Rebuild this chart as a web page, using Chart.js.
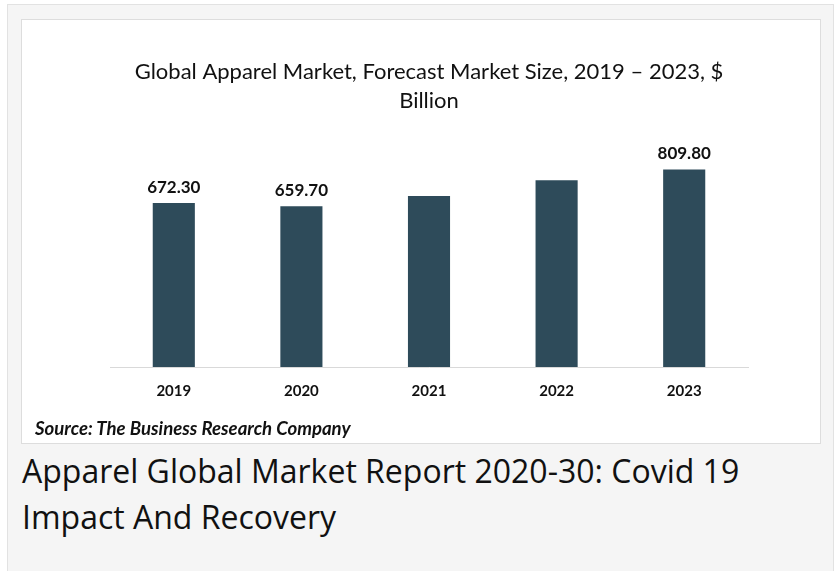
<!DOCTYPE html>
<html>
<head>
<meta charset="utf-8">
<script src="https://cdn.jsdelivr.net/npm/chart.js@4.4.0/dist/chart.umd.min.js"></script>
<style>
  html, body { margin: 0; padding: 0; background: #ffffff; }
  #panel {
    position: absolute; left: 7px; top: 4px; width: 825px; height: 600px;
    background: #f5f5f5; border: 1px solid #e2e2e2;
  }
  #box {
    position: absolute; left: 21px; top: 19px; width: 798px; height: 423px;
    background: #ffffff; border: 1px solid #dddddd;
  }
  #box canvas { position: absolute; left: 0; top: 0; }
  #source {
    position: absolute; left: 13px; top: 397px;
    font: italic bold 18.6px Lato, sans-serif; color: #111111;
  }
  #caption {
    position: absolute; left: 22px; top: 448px; width: 760px;
    font: 32px "Open Sans", sans-serif; line-height: 46px; color: #111111;
  }
</style>
</head>
<body>
<div id="panel"></div>
<div id="box">
  <canvas id="chart" width="798" height="423"></canvas>
  <div id="source">Source: The Business Research Company</div>
</div>
<div id="caption">Apparel Global Market Report 2020-30: Covid 19 Impact And Recovery</div>

<script>
const years = ['2019', '2020', '2021', '2022', '2023'];
const marketSize = [672.3, 659.7, 701, 766, 809.8];
const showLabel = [true, true, false, false, true];
const titleLines = ['Global Apparel Market, Forecast Market Size, 2019 \u2013 2023, $', 'Billion'];

const barColor = '#2e4b5a';

// value labels above the bars (only the ones shown in the source chart)
const valueLabels = {
    id: 'valueLabels',
    afterDatasetsDraw(chart) {
        const ctx = chart.ctx;
        const meta = chart.getDatasetMeta(0);
        ctx.save();
        ctx.font = 'bold 17px Lato, sans-serif';
        ctx.fillStyle = '#111111';
        ctx.textAlign = 'center';
        ctx.textBaseline = 'middle';
        meta.data.forEach((bar, i) => {
            if (!showLabel[i]) return;
            ctx.fillText(marketSize[i].toFixed(2), bar.x, bar.y - 16);
        });
        ctx.restore();
    }
};

new Chart(document.getElementById('chart'), {
    type: 'bar',
    data: {
        labels: years,
        datasets: [{
            data: marketSize,
            backgroundColor: barColor,
            borderWidth: 0,
            categoryPercentage: 1,
            barPercentage: 0.33
        }]
    },
    options: {
        responsive: false,
        animation: false,
        layout: { padding: { left: 88, right: 72, top: 0, bottom: 0 } },
        plugins: {
            legend: { display: false },
            tooltip: { enabled: false },
            title: {
                display: true,
                text: titleLines,
                color: '#111111',
                font: { family: 'Lato', size: 22, weight: 'normal', lineHeight: 1.3 },
                padding: { top: 38, bottom: 19 }
            }
        },
        scales: {
            x: {
                grid: { display: false, drawTicks: false },
                border: { display: true, color: '#d9d9d9', width: 1 },
                ticks: {
                    color: '#111111',
                    padding: 15,
                    font: { family: 'Lato', size: 15, weight: 'bold' }
                },
                afterFit(scale) { scale.height = 76; }
            },
            y: {
                display: false,
                min: 0,
                max: 955
            }
        }
    },
    plugins: [valueLabels]
});
</script>
</body>
</html>
